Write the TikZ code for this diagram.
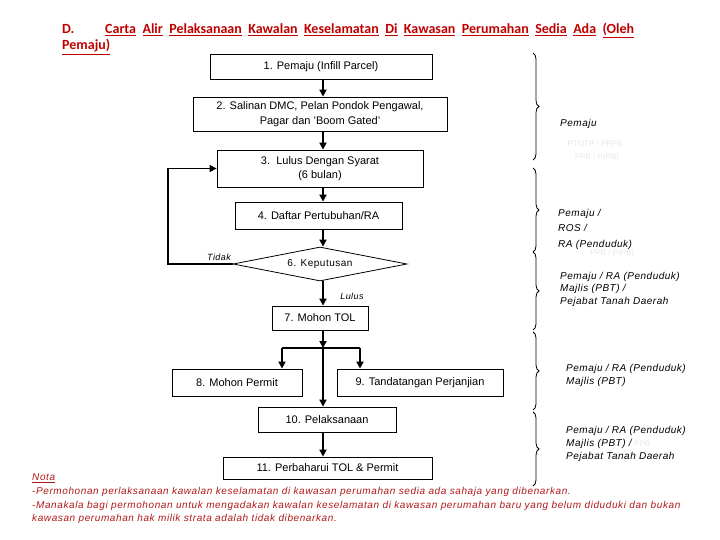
\documentclass[tikz,border=0pt]{standalone}
\usepackage{fontspec}
\setmainfont{Liberation Sans}
\newfontfamily\titlefont{Carlito}
\newfontfamily\spacedfont[LetterSpace=5]{Liberation Sans}
\newfontfamily\notefont[LetterSpace=6]{Liberation Sans}
\usetikzlibrary{arrows.meta,shapes.geometric,decorations.pathreplacing}
\definecolor{titlered}{HTML}{C00000}
\definecolor{notered}{HTML}{B01818}
\definecolor{faint}{HTML}{E6E6E6}
\newcommand{\wu}[1]{\underline{#1}}
\tikzset{
  box/.style={draw, line width=0.8pt, inner sep=2pt, align=center,
    font=\fontsize{11}{14.5}\selectfont},
  flow/.style={line width=1.8pt, -{Triangle[length=7pt,width=7pt]}},
  link/.style={line width=1.8pt},
  who/.style={anchor=west, align=left, inner sep=0pt,
    font=\fontsize{10}{13}\spacedfont\itshape},
  ghost/.style={inner sep=0pt, text=faint, font=\fontsize{8}{12}\selectfont},
  bracket/.style={decorate, decoration={brace, amplitude=6pt}, line width=0.8pt},
  nota/.style={anchor=west, inner sep=0pt, text=notered,
    font=\fontsize{10}{12}\notefont\itshape},
  heading/.style={anchor=base west, inner sep=0pt, text=titlered,
    font=\titlefont\bfseries\fontsize{14}{16}\selectfont},
}
\begin{document}
\begin{tikzpicture}[x=1pt,y=-1pt]
  \useasboundingbox (0,0) rectangle (720,540);

  % title
  \node[heading] (dno) at (62,34) {D.};
  \node[heading] (title) at (105,34)
    {\makebox[529pt][s]{\wu{Carta} \wu{Alir} \wu{Pelaksanaan} \wu{Kawalan} \wu{Keselamatan} \wu{Di} \wu{Kawasan} \wu{Perumahan} \wu{Sedia} \wu{Ada} \wu{(Oleh}}};
  \node[heading] (title2) at (62,50) {\wu{Pemaju)}};

  % flow boxes
  \node[box, minimum width=222, minimum height=25] (b1) at (321,66.5) {1. Pemaju (Infill Parcel)};
  \node[box, minimum width=254, minimum height=34] (b2) at (320,114) {2. Salinan DMC, Pelan Pondok Pengawal,\\Pagar dan 'Boom Gated'};
  \node[box, minimum width=206, minimum height=37] (b3) at (320,168.5) {3.\ \ Lulus Dengan Syarat\\(6 bulan)};
  \node[box, minimum width=167, minimum height=27] (b4) at (318.5,215.5) {4. Daftar Pertubuhan/RA};
  \node[draw, diamond, line width=0.8pt, inner sep=0pt, aspect=5, minimum width=174, minimum height=34,
    font=\fontsize{10}{12}\spacedfont] (dec) at (320,264) {6. Keputusan};
  \node[box, minimum width=96, minimum height=24] (b7) at (320,318) {7. Mohon TOL};
  \node[box, minimum width=130, minimum height=27] (b8) at (237,382.5) {8. Mohon Permit};
  \node[box, minimum width=166, minimum height=27] (b9) at (420,382.5) {9. Tandatangan Perjanjian};
  \node[box, minimum width=138, minimum height=25] (b10) at (327,419.5) {10. Pelaksanaan};
  \node[box, minimum width=209, minimum height=22] (b11) at (327.5,468) {11. Perbaharui TOL \& Permit};

  % connectors
  \coordinate (split) at (323,348);
  \coordinate (toleft) at (282,348);
  \coordinate (toright) at (360,348);
  \coordinate (back) at (168,270);
  \draw[flow] (b1.south -| split) -- (b2.north -| split);
  \draw[flow] (b2.south -| split) -- (b3.north -| split);
  \draw[flow] (b3.south -| split) -- (b4.north -| split);
  \draw[flow] (b4.south -| split) -- (dec.north -| split);
  \draw[flow] (dec.south -| split) -- (b7.north -| split);
  \draw[flow] (b7.south -| split) -- (split);
  \draw[link] (toleft) -- (toright);
  \draw[flow] (toleft) -- (b8.north -| toleft);
  \draw[flow] (toright) -- (b9.north -| toright);
  \draw[flow] (split) -- (b10.north -| split);
  \draw[flow] (b10.south -| split) -- (b11.north -| split);
  \draw[flow, line width=1.2pt] (dec.west) -- (dec.west -| back) |- (b3.west);

  \node[inner sep=0pt, font=\fontsize{9}{11}\spacedfont\itshape] (no) at (219,257) {Tidak};
  \node[inner sep=0pt, font=\fontsize{9}{11}\spacedfont\itshape] (yes) at (352,296) {Lulus};

  % responsibility braces
  \coordinate (r1a) at (533,53);  \coordinate (r1b) at (533,160);
  \coordinate (r2a) at (533,168); \coordinate (r2b) at (533,252);
  \coordinate (r3a) at (533,252); \coordinate (r3b) at (533,330);
  \coordinate (r4a) at (533,332); \coordinate (r4b) at (533,410);
  \coordinate (r5a) at (533,412); \coordinate (r5b) at (533,486);
  \draw[bracket] (r1a) -- (r1b);
  \draw[bracket] (r2a) -- (r2b);
  \draw[bracket] (r3a) -- (r3b);
  \draw[bracket] (r4a) -- (r4b);
  \draw[bracket] (r5a) -- (r5b);

  \node[who] (w1) at (560,124) {Pemaju};
  \node[ghost] (g1) at (595,144) {PT/JTP / PPPB};
  \node[ghost] (g2) at (597,157) {PPB / P(PB)};
  \node[who, font=\fontsize{10}{15.5}\spacedfont\itshape] (w2) at (558,229) {Pemaju /\\ROS /\\RA (Penduduk)};
  \node[ghost] (g3) at (612,253) {PPB / P(PB)};
  \node[who, font=\fontsize{10}{12.5}\spacedfont\itshape] (w3) at (560,289) {Pemaju / RA (Penduduk)\\Majlis (PBT) /\\Pejabat Tanah Daerah};
  \node[who] (w4) at (566,375.5) {Pemaju / RA (Penduduk)\\Majlis (PBT)};
  \node[who] (w5) at (566,444) {Pemaju / RA (Penduduk)\\Majlis (PBT) /\\Pejabat Tanah Daerah};
  \node[ghost, anchor=west] (g4) at (634,444) {PPB};

  % notes
  \node[nota] (n0) at (32,478) {\underline{Nota}};
  \node[nota] (n1) at (32,492) {-Permohonan perlaksanaan kawalan keselamatan di kawasan perumahan sedia ada sahaja yang dibenarkan.};
  \node[nota] (n2) at (32,506) {-Manakala bagi permohonan untuk mengadakan kawalan keselamatan di kawasan perumahan baru yang belum diduduki dan bukan};
  \node[nota] (n3) at (32,519) {kawasan perumahan hak milik strata adalah tidak dibenarkan.};
\end{tikzpicture}
\end{document}
